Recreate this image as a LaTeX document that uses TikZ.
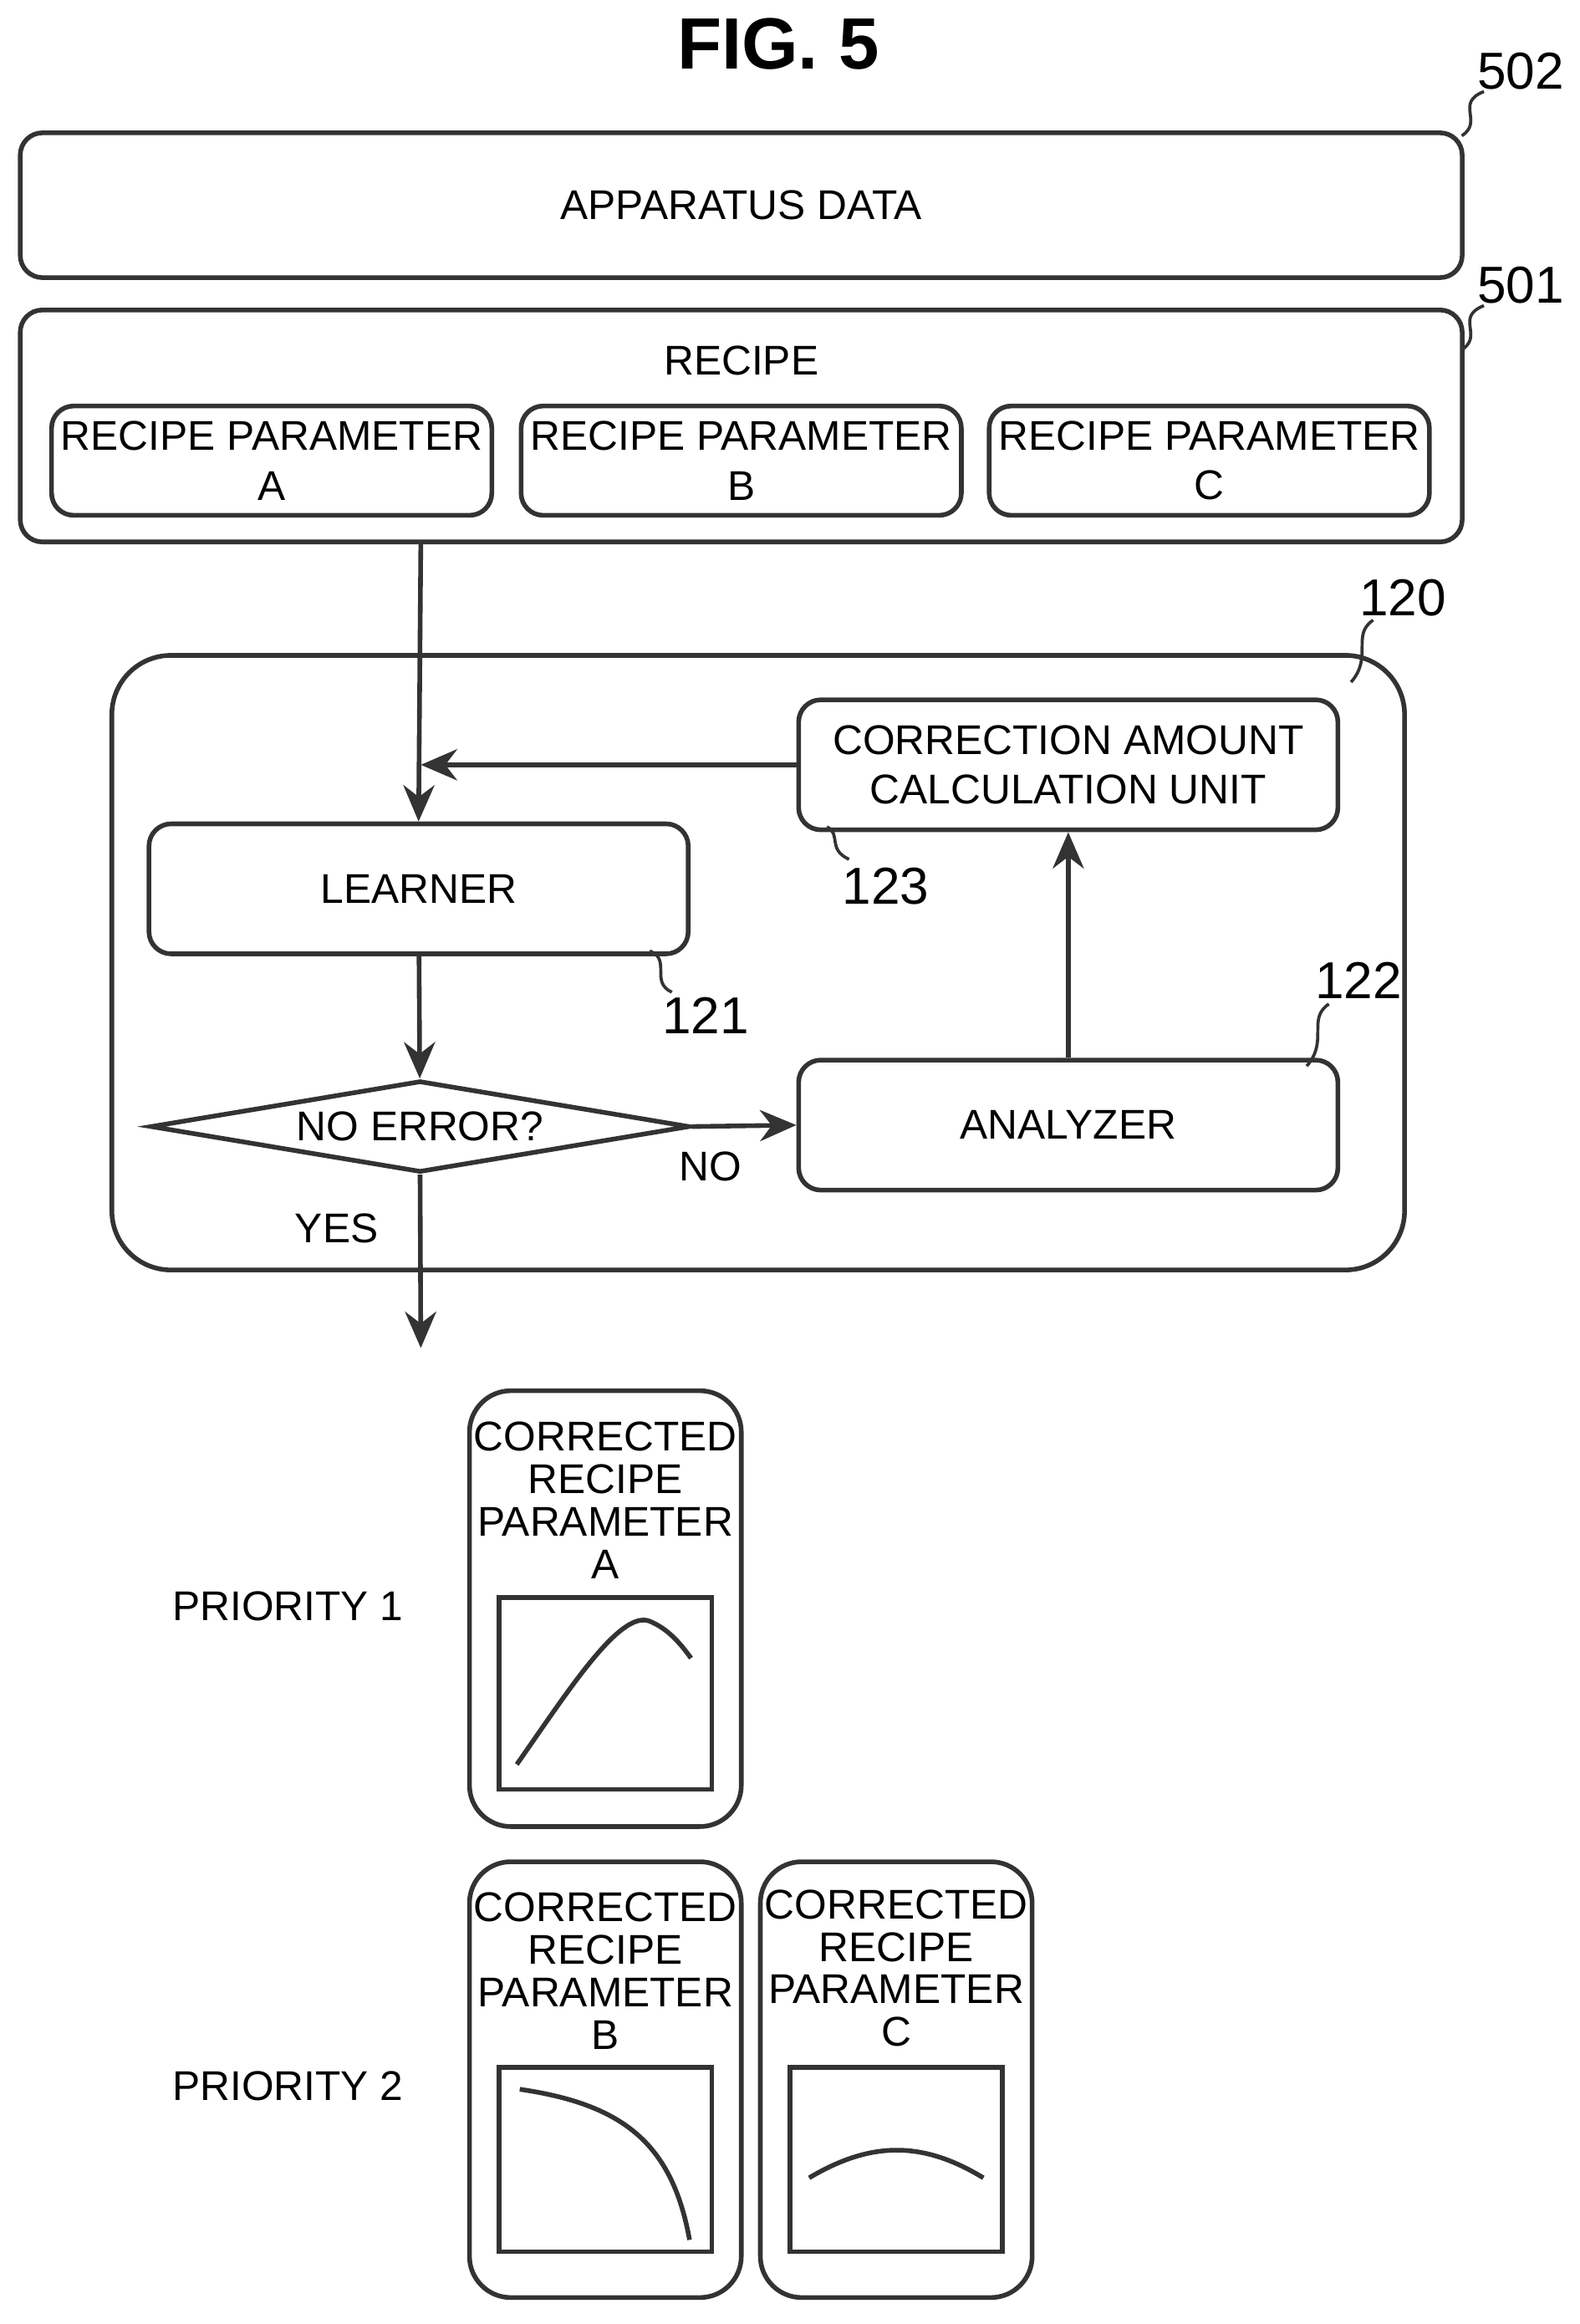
\documentclass[tikz,border=0pt]{standalone}
\usepackage{fontspec}
\setmainfont{Liberation Sans}
\usetikzlibrary{shapes.geometric,arrows.meta}
\begin{document}
\begin{tikzpicture}[x=0.01cm, y=-0.01cm, >={Stealth[length=7pt,width=6pt]},
    line width=0.9pt, draw=black!80, font=\fontsize{8}{9.6}\selectfont]

		% Styles
		\tikzset{box/.style={draw=black!80, rounded corners=0.15cm, align=center, inner sep=0pt},
		         card/.style={draw=black!80, rounded corners=0.28cm},
		         lbl/.style={font=\fontsize{10}{12}\selectfont},
		         lead/.style={line width=0.6pt}}
		\useasboundingbox (0,0) rectangle (1070,1574);

		% Title
		\node[font=\fontsize{14}{17}\selectfont\bfseries] (title) at (527,30) {FIG. 5};

		% Apparatus data and recipe
		\node[box, minimum width=9.76cm, minimum height=0.98cm] (app) at (502,139) {APPARATUS DATA};
		\node[box, minimum width=9.76cm, minimum height=1.57cm] (recipe) at (502,288.5) {};
		\node (recipetxt) at (502,244) {RECIPE};
		\node[box, minimum width=2.98cm, minimum height=0.74cm] (pa) at (184,312) {RECIPE PARAMETER\\A};
		\node[box, minimum width=2.98cm, minimum height=0.74cm] (pb) at (502,312) {RECIPE PARAMETER\\B};
		\node[box, minimum width=2.98cm, minimum height=0.74cm] (pc) at (819,312) {RECIPE PARAMETER\\C};

		% Unit 120
		\node[box, rounded corners=0.4cm, minimum width=8.75cm, minimum height=4.16cm] (unit) at (513.5,652) {};
		\node[box, minimum width=3.65cm, minimum height=0.88cm] (corr) at (723.5,518) {CORRECTION AMOUNT\\CALCULATION UNIT};
		\node[box, minimum width=3.65cm, minimum height=0.88cm] (learner) at (283.5,602) {LEARNER};
		\node[diamond, draw=black!80, aspect=3.97, inner sep=0pt, minimum width=3.65cm] (err) at (284.5,763) {NO ERROR?};
		\node[box, minimum width=3.65cm, minimum height=0.88cm] (ana) at (723.5,762) {ANALYZER};
		\coordinate (join) at (285,518);
		\coordinate (out) at (285,913);

		% Arrows
		\draw[->] (285,367) -- (learner.north);
		\draw[->] (corr.west) -- (join);
		\draw[->] (learner) -- (err);
		\draw[->] (err.east) -- (ana.west);
		\draw[->] (ana) -- (corr);
		\draw[->] (err.south) -- (out);
		\node (no) at (481,790) {NO};
		\node (yes) at (228,832) {YES};

		% Reference numerals
		\node[lbl] (n502) at (1030,48) {502};
		\draw[lead] (1005,62) .. controls (985,70) and (1005,82) .. (990,92);
		\node[lbl] (n501) at (1030,193) {501};
		\draw[lead] (1005,207) .. controls (985,215) and (1005,227) .. (990,237);
		\node[lbl] (n120) at (950,405) {120};
		\draw[lead] (930,420) .. controls (915,430) and (930,445) .. (915,462);
		\node[lbl] (n123) at (600,600) {123};
		\draw[lead] (575,582) .. controls (560,575) and (570,565) .. (560,560);
		\node[lbl] (n121) at (478,688) {121};
		\draw[lead] (455,672) .. controls (440,665) and (455,650) .. (440,644);
		\node[lbl] (n122) at (920,664) {122};
		\draw[lead] (900,680) .. controls (885,690) and (900,705) .. (885,722);

		% Corrected recipe parameters
		\node (pr1) at (195,1088) {PRIORITY 1};
		\node (pr2) at (195,1413) {PRIORITY 2};
		\node[card, minimum width=1.84cm, minimum height=2.95cm] (ca) at (410,1089.5) {};
		\node[card, minimum width=1.84cm, minimum height=2.95cm] (cb) at (410,1408.5) {};
		\node[card, minimum width=1.84cm, minimum height=2.95cm] (cc) at (607,1408.5) {};
		\node[align=center, font=\fontsize{8}{8.2}\selectfont] (ta) at (410,1016) {CORRECTED\\RECIPE\\PARAMETER\\A};
		\node[align=center, font=\fontsize{8}{8.2}\selectfont] (tb) at (410,1335) {CORRECTED\\RECIPE\\PARAMETER\\B};
		\node[align=center, font=\fontsize{8}{8.2}\selectfont] (tc) at (607,1333) {CORRECTED\\RECIPE\\PARAMETER\\C};
		\draw (338,1082) rectangle (482,1212);
		\draw (338,1400) rectangle (482,1525);
		\draw (535,1400) rectangle (679,1525);
		\draw (350,1195) .. controls (385,1145) and (420,1090) .. (440,1098) .. controls (452,1103) and (460,1112) .. (468,1123);
		\draw (352,1415) .. controls (420,1425) and (455,1450) .. (467,1517);
		\draw (548,1475) .. controls (590,1450) and (625,1450) .. (666,1475);

	\end{tikzpicture}
\end{document}
